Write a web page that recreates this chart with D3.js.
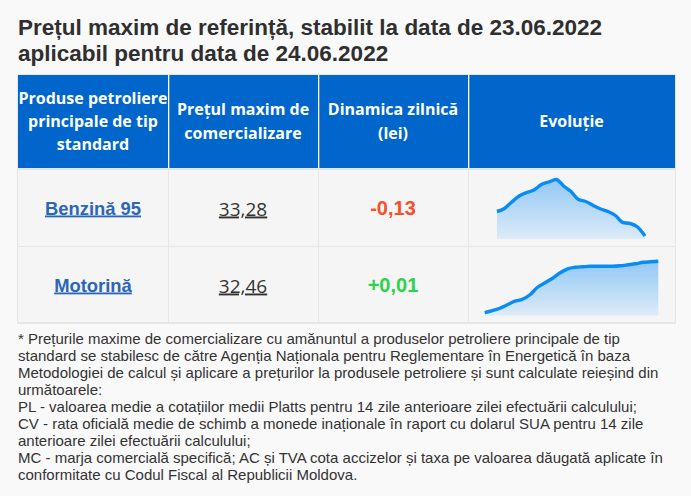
<!DOCTYPE html>
<html><head><meta charset="utf-8">
<script src="https://cdn.jsdelivr.net/npm/d3@7"></script>
<style>
html,body{margin:0;padding:0;background:#f9f9f9;}
svg{display:block;}
</style></head><body>
<svg id="c" width="691" height="496"></svg>
<script>
const titleLines = ["Prețul maxim de referință, stabilit la data de 23.06.2022", "aplicabil pentru data de 24.06.2022"];
const headers = [["Produse petroliere","principale de tip","standard"],["Prețul maxim de","comercializare"],["Dinamica zilnică","(lei)"],["Evoluție"]];
const products = ["Benzină 95", "Motorină"];
const prices = ["33,28", "32,46"];
const changes = ["-0,13", "+0,01"];
const benzinaSeries = [33.77,33.83,33.96,34.08,34.15,34.20,34.31,34.36,34.41,34.28,34.17,34.01,33.97,33.89,33.82,33.77,33.69,33.55,33.53,33.46,33.28];
const motorinaSeries = [31.43,31.47,31.52,31.59,31.66,31.70,31.79,31.94,32.03,32.12,32.23,32.31,32.34,32.35,32.36,32.36,32.36,32.36,32.37,32.39,32.41,32.44,32.45,32.46];
const footnote = [
"* Prețurile maxime de comercializare cu amănuntul a produselor petroliere principale de tip",
"standard se stabilesc de către Agenția Naționala pentru Reglementare în Energetică în baza",
"Metodologiei de calcul și aplicare a prețurilor la produsele petroliere și sunt calculate reieșind din",
"următoarele:",
"PL - valoarea medie a cotațiilor medii Platts pentru 14 zile anterioare zilei efectuării calculului;",
"CV - rata oficială medie de schimb a monede inaționale în raport cu dolarul SUA pentru 14 zile",
"anterioare zilei efectuării calculului;",
"MC - marja comercială specifică; AC și TVA cota accizelor și taxa pe valoarea dăugată aplicate în",
"conformitate cu Codul Fiscal al Republicii Moldova."
];

const svg = d3.select("#c");
const colX = [18,168,318,468,675];
const headTop = 75, headBot = 168, rowTop = [169, 246], rowH = 77;

// title
svg.append("g").selectAll("text").data(titleLines).join("text")
  .attr("x",18).attr("y",(d,i)=>35+i*26)
  .attr("font-family","'Liberation Sans',Arial,sans-serif").attr("font-weight","bold")
  .attr("font-size",22.5).attr("fill","#2f2f2f").text(d=>d);

// header
svg.append("rect").attr("x",colX[0]-1).attr("y",headTop-1).attr("width",colX[4]-colX[0]+2).attr("height",rowTop[1]+rowH-headTop+2).attr("fill","#e6e6e6");
svg.append("rect").attr("x",colX[0]).attr("y",headTop).attr("width",colX[4]-colX[0]).attr("height",headBot-headTop).attr("fill","#0066cc");
const hg = svg.append("g");
headers.forEach((lines,i)=>{
  const cx=(colX[i]+colX[i+1])/2, cy=(headTop+headBot)/2;
  const t=hg.append("text").attr("text-anchor","middle")
    .attr("font-family","'Open Sans',sans-serif").attr("font-weight",700).attr("font-size",16).attr("fill","#fff");
  lines.forEach((l,j)=>{
    t.append("tspan").attr("x",cx).attr("y",cy+(j-(lines.length-1)/2)*23.3+5.5).text(l);
  });
  if(i>0) hg.append("rect").attr("x",colX[i]).attr("y",headTop).attr("width",1.3).attr("height",headBot-headTop).attr("fill","#fff");
});

// body rows
products.forEach((p,r)=>{
  const y0=rowTop[r]+1;
  for(let c=0;c<4;c++){
    svg.append("rect").attr("x",colX[c]+(c>0?1:0)).attr("y",y0).attr("width",colX[c+1]-colX[c]-(c>0?1:0)).attr("height",rowH-(r===0?1:2)).attr("fill","#f5f5f5");
  }
  const cy=y0+rowH/2;
  svg.append("text").attr("x",(colX[0]+colX[1])/2).attr("y",cy+6).attr("text-anchor","middle")
    .attr("font-family","'Liberation Sans',Arial,sans-serif").attr("font-weight","bold").attr("font-size",18.4)
    .attr("fill","#2b67b8").style("text-decoration","underline").text(p);
  svg.append("text").attr("x",(colX[1]+colX[2])/2).attr("y",cy+7).attr("text-anchor","middle")
    .attr("font-family","'Open Sans',sans-serif").attr("font-size",19)
    .attr("fill","#333").style("text-decoration","underline").text(prices[r]);
  svg.append("text").attr("x",(colX[2]+colX[3])/2).attr("y",cy+6.5).attr("text-anchor","middle")
    .attr("font-family","'Liberation Sans',Arial,sans-serif").attr("font-weight","bold").attr("font-size",20)
    .attr("fill",changes[r][0]==="-"?"#f4502a":"#2dd24b").text(changes[r]);
});

// gradient
const defs=svg.append("defs");
const gr=defs.append("linearGradient").attr("id","gf").attr("x1",0).attr("y1",0).attr("x2",0).attr("y2",1);
gr.append("stop").attr("offset","0%").attr("stop-color","#92c8f5");
gr.append("stop").attr("offset","100%").attr("stop-color","#dcebf8");

function spark(data, x0, x1, yTop, yLow, yBase){
  const x=d3.scaleLinear().domain([0,data.length-1]).range([x0,x1]);
  const y=d3.scaleLinear().domain(d3.extent(data)).range([yLow,yTop]);
  const area=d3.area().x((d,i)=>x(i)).y0(yBase).y1(d=>y(d)).curve(d3.curveMonotoneX);
  const line=d3.line().x((d,i)=>x(i)).y(d=>y(d)).curve(d3.curveMonotoneX);
  const g=svg.append("g");
  g.append("path").datum(data).attr("d",area).attr("fill","url(#gf)");
  g.append("path").datum(data).attr("d",line).attr("fill","none").attr("stroke","#0a8cf5")
    .attr("stroke-width",3.4).attr("stroke-linejoin","round");
}
spark(benzinaSeries, 497, 645, 179.5, 236, 239);
spark(motorinaSeries, 484.7, 658.3, 261.3, 312.7, 315.5);

// footnote
svg.append("g").selectAll("text").data(footnote).join("text")
  .attr("x",18).attr("y",(d,i)=>343.5+i*17)
  .attr("font-family","'Liberation Sans',Arial,sans-serif").attr("font-size",15)
  .attr("fill","#333").text(d=>d);
</script>
</body></html>
